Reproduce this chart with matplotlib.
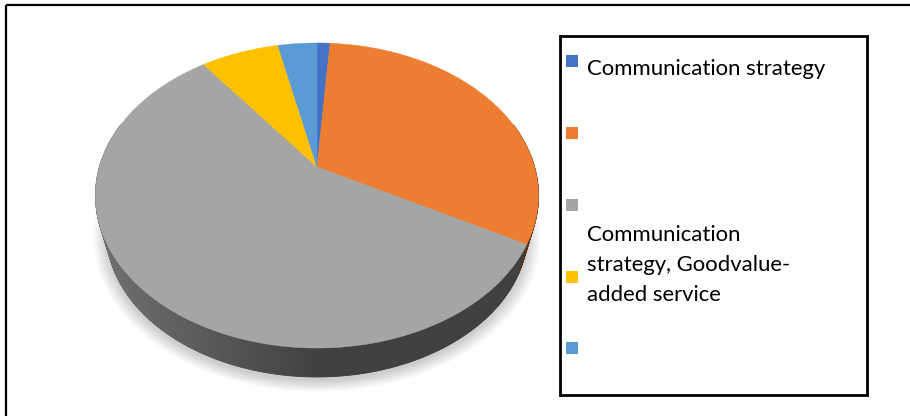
import numpy as np
import matplotlib
matplotlib.use('Agg')
import matplotlib.pyplot as plt
from matplotlib.patches import Rectangle, Polygon
from matplotlib.collections import PolyCollection
from matplotlib.colors import to_rgb

# survey answers per category (first slice starts at 12 o'clock, clockwise)
labels = ['Communication strategy', '', '', 'Communication strategy, Goodvalue-added service', '']
counts = [1, 28, 50, 6, 3]
colors = ['#4472C4', '#ED7D31', '#A5A5A5', '#FFC000', '#5B9BD5']

W, H = 910, 416

# perspective disc: apex, half width/height, foreshortening
cx = 317
top = dict(y0=167.0, A=217.6, B=147.2, k=0.187)
bot = dict(y0=205.0, A=206.7, B=139.8, k=0.187)


def proj(phi, p):
    u = np.sin(phi)
    v = np.cos(phi)
    w = 1 + p['k'] * v
    return cx + p['A'] * u / w, p['y0'] - p['B'] * v / w


fig = plt.figure(figsize=(W / 100, H / 100), dpi=100)
ax = fig.add_axes([0, 0, 1, 1])
ax.set_xlim(0, W)
ax.set_ylim(H, 0)
ax.axis('off')

fracs = np.array(counts, dtype=float) / sum(counts)
edges = np.concatenate([[0], np.cumsum(fracs)]) * 2 * np.pi

# soft shadow under the disc
for i in range(10):
    s = 1.0 + 0.007 * i
    p = dict(bot)
    p['A'] = bot['A'] * s
    p['B'] = bot['B'] * s
    p['y0'] = bot['y0'] + 4
    ph = np.linspace(0, 2 * np.pi, 300)
    xs, ys = proj(ph, p)
    ax.add_patch(Polygon(np.column_stack([xs, ys]), closed=True,
                         facecolor='#000000', alpha=0.02, lw=0))

# side wall, shaded lighter to the left
quads = []
qcols = []
for i in range(len(counts)):
    ph = np.linspace(edges[i], edges[i + 1], max(3, int(fracs[i] * 720)))
    base = np.array(to_rgb(colors[i]))
    for a, b in zip(ph[:-1], ph[1:]):
        if np.cos((a + b) / 2) > 0.3:
            continue
        xa, ya = proj(a, top)
        xb, yb = proj(b, top)
        xa2, ya2 = proj(a, bot)
        xb2, yb2 = proj(b, bot)
        quads.append([(xa, ya), (xb, yb), (xb2, yb2), (xa2, ya2)])
        t = np.clip((xa - 95) / 443 / 0.5, 0, 1)
        qcols.append(base * (0.68 * (1 - t) + 0.39 * t))
ax.add_collection(PolyCollection(quads, facecolors=qcols, edgecolors=qcols, linewidths=0.6))

# top face
for i in range(len(counts)):
    ph = np.linspace(edges[i], edges[i + 1], max(4, int(fracs[i] * 400)))
    xs, ys = proj(ph, top)
    pts = [(cx, top['y0'])] + list(zip(xs, ys))
    ax.add_patch(Polygon(pts, closed=True, facecolor=colors[i], edgecolor=colors[i], lw=0.3))

# outer frame (runs off the right and bottom edges)
ax.add_patch(Rectangle((6, 5), 930, 440, fill=False, edgecolor='black', lw=1.6))

# legend box
ax.add_patch(Rectangle((559.5, 35.5), 307, 359, fill=False, edgecolor='black', lw=2.0))
marker_y = [61, 133, 205, 277, 348]
fs = 15.9
for i, lab in enumerate(labels):
    ax.add_patch(Rectangle((566, marker_y[i] - 6), 12, 12, facecolor=colors[i], lw=0))
    if lab == '':
        continue
    if i == 0:
        ax.text(587, 75, lab, fontsize=fs, family='Lato', va='baseline', ha='left')
    else:
        lines = ['Communication', 'strategy, Goodvalue-', 'added service']
        for j, ln in enumerate(lines):
            ax.text(587, 241 + 30 * j, ln, fontsize=fs, family='Lato',
                    va='baseline', ha='left')

fig.savefig('out.png', dpi=100)
